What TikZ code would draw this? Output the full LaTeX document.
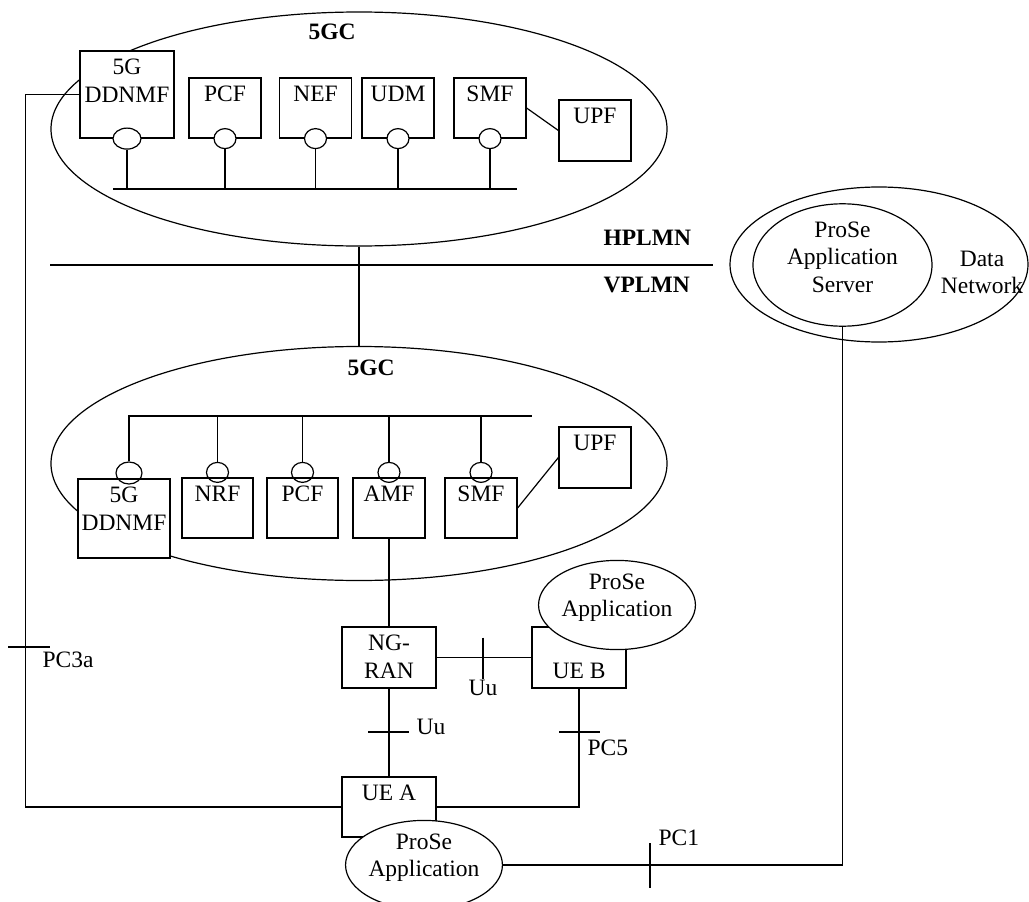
\documentclass[tikz,border=0pt]{standalone}
\usepackage{fontspec}
\setmainfont{Liberation Serif}
\usetikzlibrary{shapes.geometric}

\begin{document}
\begin{tikzpicture}[x=1pt, y=-1pt, line width=1.2pt,
	every node/.style={font=\fontsize{23.5}{27.5}\selectfont},
	bold/.style={font=\fontsize{23.5}{27.5}\selectfont\bfseries},
	tag/.style={anchor=west, inner sep=0pt},
	lbl/.style={anchor=north, align=center, yshift=-5pt},
	nf/.style={draw, fill=white, rectangle, inner sep=0pt, minimum width=72pt, minimum height=60pt},
	port/.style={draw, ellipse, inner sep=0pt, minimum width=22pt, minimum height=20pt},
	core/.style={draw, ellipse, inner sep=0pt, minimum width=616pt, minimum height=234pt},
	appl/.style={draw, fill=white, ellipse, inner sep=0pt, align=center, minimum width=131pt, minimum height=75pt, text depth=20pt}]

	\useasboundingbox (0,0) rectangle (1029,902);

	\node [core] (hcore) at (359,129) {};
	\node [bold] (hgc) at (332,32) {5GC};
	\node [nf, minimum width=94pt, minimum height=87pt, label={[lbl]north:5G\\DDNMF}] (ddnmfH) at (127,94.5) {};
	\node [nf, label={[lbl]north:PCF}] (pcfH) at (225,108) {};
	\node [nf, label={[lbl]north:NEF}] (nefH) at (315.5,108) {};
	\node [nf, label={[lbl]north:UDM}] (udmH) at (398,108) {};
	\node [nf, label={[lbl]north:SMF}] (smfH) at (490,108) {};
	\node [nf, minimum height=61pt, label={[lbl]north:UPF}] (upfH) at (595,130.5) {};
	\node [port, fill=white, minimum width=28pt, minimum height=21pt] (pDH) at (ddnmfH.south) {};
	\node [port, fill=white] (pPH) at (pcfH.south) {};
	\node [port, fill=white] (pNH) at (nefH.south) {};
	\node [port, fill=white] (pUH) at (udmH.south) {};
	\node [port, fill=white] (pSH) at (smfH.south) {};

	\coordinate (busHl) at (113,189);
	\coordinate (busHr) at (517,189);
	\draw (busHl) -- (busHr);
	\foreach \p in {pDH,pPH,pNH,pUH,pSH}
		\draw (\p.south) -- (\p.south |- busHl);
	\draw (smfH.east) -- (upfH.west);

	\coordinate (hl) at (50,265);
	\coordinate (hr) at (713,265);
	\draw (hl) -- (hr);
	\node [bold, tag] (hp) at (603,238) {HPLMN};
	\node [bold, tag] (vp) at (603,285) {VPLMN};

	\node [core] (vcore) at (359,463.5) {};
	\node [bold] (vgc) at (371,368) {5GC};
	\node [nf, minimum width=92pt, minimum height=79pt, label={[lbl]north:5G\\DDNMF}] (ddnmfV) at (124,518.5) {};
	\node [nf, minimum width=71pt, label={[lbl]north:NRF}] (nrfV) at (217.5,508) {};
	\node [nf, minimum width=71pt, label={[lbl]north:PCF}] (pcfV) at (302.5,508) {};
	\node [nf, label={[lbl]north:AMF}] (amfV) at (389,508) {};
	\node [nf, label={[lbl]north:SMF}] (smfV) at (481,508) {};
	\node [nf, minimum height=61pt, label={[lbl]north:UPF}] (upfV) at (595,457.5) {};
	\node [port, minimum width=26pt, minimum height=22pt] (pDV) at (129,473) {};
	\node [port] (pNV) at ([yshift=5pt]nrfV.north) {};
	\node [port] (pPV) at ([yshift=5pt]pcfV.north) {};
	\node [port] (pAV) at ([yshift=5pt]amfV.north) {};
	\node [port] (pSV) at ([yshift=5pt]smfV.north) {};

	\coordinate (busVl) at (128,416);
	\coordinate (busVr) at (532,416);
	\draw (busVl) -- (busVr);
	\foreach \p in {pDV,pNV,pPV,pAV,pSV}
		\draw (\p.north) -- (\p.north |- busVl);
	\draw (smfV.east) -- (upfV.west);

	\draw (hcore.south) -- (vcore.north);

	\node [nf, minimum width=94pt, minimum height=61pt, label={[lbl]north:NG-\\RAN}] (ngran) at (389,657.5) {};
	\node [nf, minimum width=94pt, minimum height=61pt, label={[lbl, yshift=-27.5pt]north:UE B}] (ueB) at (579,657.5) {};
	\node [nf, minimum width=94pt, minimum height=60pt, label={[lbl]north:UE A}] (ueA) at (389,807) {};
	\node [appl] (appB) at (617,605) {ProSe\\Application};

	\draw (amfV.south) -- (ngran.north);
	\draw (ngran.east) -- (ueB.west);
	\draw (ngran.south) -- (ueA.north);
	\draw (ueB.south) |- (ueA.east);
	\draw (ddnmfH.west) -- ++(-54,0) |- (ueA.west);

	\node [appl, minimum height=74pt] (appA) at (424,865) {ProSe\\Application};

	\node [draw, ellipse, inner sep=0pt, minimum width=298pt, minimum height=155pt] (dn) at (879,264.5) {};
	\node [draw, ellipse, inner sep=0pt, align=center, minimum width=179pt, minimum height=104pt, text depth=16pt] (srv) at (842.5,265) {ProSe\\Application\\Server};
	\node [align=center] (dnt) at (982,272.5) {Data\\Network};

	\draw (appA.east) -| (srv.south);

	\coordinate (t3a) at (26,647);
	\draw ([xshift=-18pt]t3a) -- ([xshift=24pt]t3a);
	\node [tag] (l3a) at (42,660) {PC3a};
	\coordinate (tu1) at (483,657.5);
	\draw ([yshift=20pt]tu1) -- ([yshift=-21pt]tu1);
	\node (lu1) at (483,688) {Uu};
	\coordinate (tu2) at (389,732);
	\draw ([xshift=-21pt]tu2) -- ([xshift=20pt]tu2);
	\node [tag] (lu2) at (416,727) {Uu};
	\coordinate (tp5) at (579,732);
	\draw ([xshift=-20pt]tp5) -- ([xshift=21pt]tp5);
	\node [tag] (lp5) at (587,748) {PC5};
	\coordinate (tp1) at (650,865);
	\draw ([yshift=22pt]tp1) -- ([yshift=-23pt]tp1);
	\node [tag] (lp1) at (658,838) {PC1};

\end{tikzpicture}
\end{document}
